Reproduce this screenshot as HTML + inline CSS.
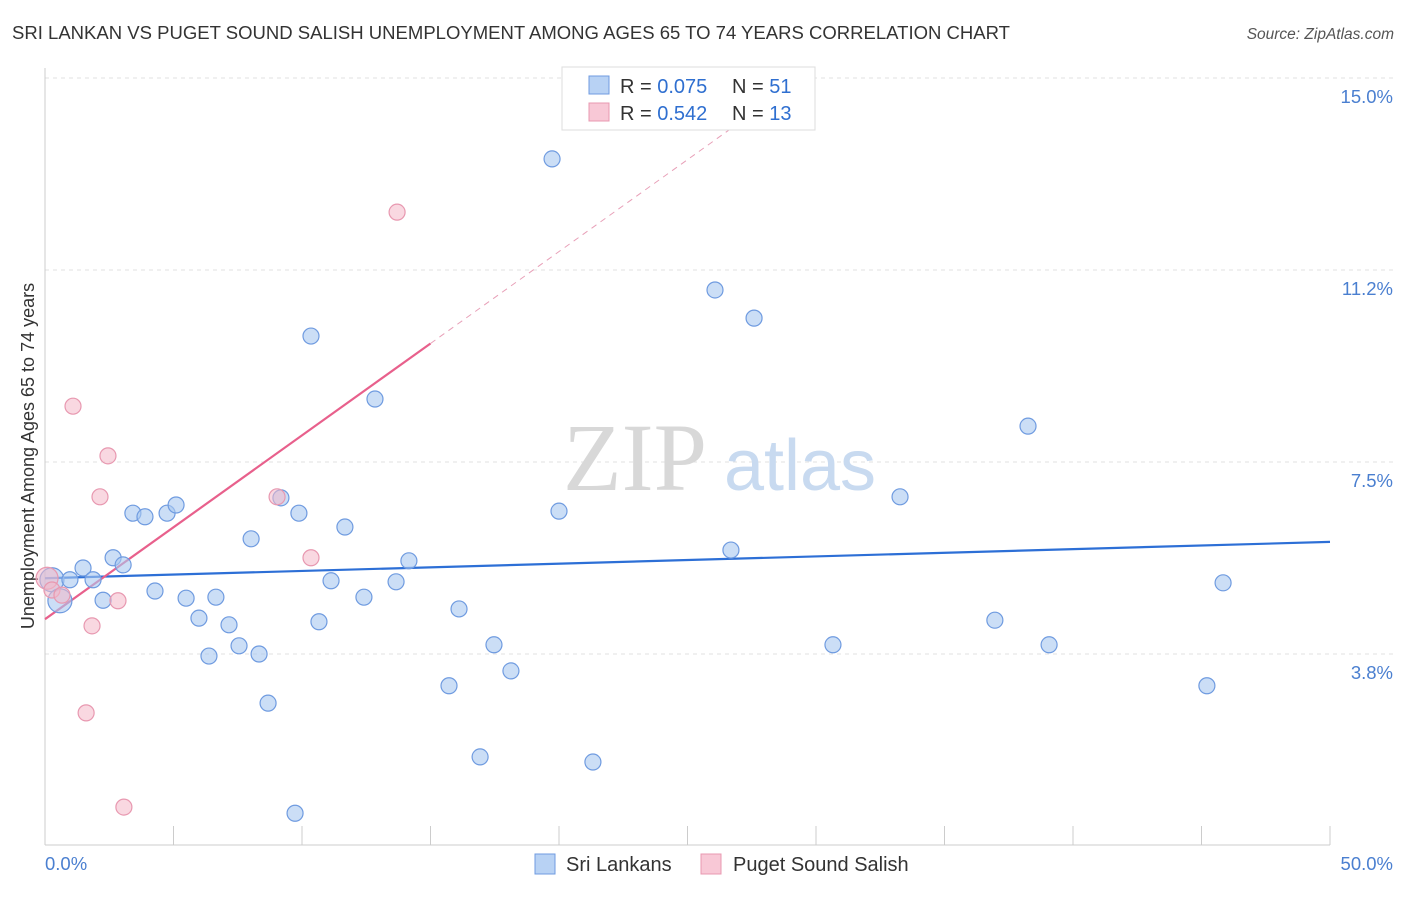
<!DOCTYPE html>
<html><head><meta charset="utf-8"><style>
body{margin:0;background:#fff;font-family:"Liberation Sans",sans-serif;}
svg text{font-family:"Liberation Sans",sans-serif;}
</style></head><body>
<svg width="1406" height="892" viewBox="0 0 1406 892">
<text x="12" y="39" font-size="18" fill="#333" textLength="998" lengthAdjust="spacingAndGlyphs">SRI LANKAN VS PUGET SOUND SALISH UNEMPLOYMENT AMONG AGES 65 TO 74 YEARS CORRELATION CHART</text>
<text x="1394" y="39" font-size="15.5" fill="#555" font-style="italic" text-anchor="end">Source: ZipAtlas.com</text>
<g id="grid"></g>
<g>
<text x="635" y="490" font-size="96" fill="#d8d8d8" text-anchor="middle" style="font-family:'Liberation Serif',serif">ZIP</text>
<text x="800" y="490" font-size="72" fill="#c8daf0" text-anchor="middle">atlas</text>
</g>
<line x1="45" y1="68" x2="45" y2="845" stroke="#ccc"/>
<line x1="45" y1="845" x2="1330" y2="845" stroke="#ccc"/>
<g id="ticks"></g>
<g id="ylabels"></g>
<text x="45" y="870" font-size="18.5" fill="#4a7fd0">0.0%</text>
<text x="1393" y="870" font-size="18.5" fill="#4a7fd0" text-anchor="end">50.0%</text>
<text transform="translate(34,456) rotate(-90)" font-size="18" fill="#333" text-anchor="middle">Unemployment Among Ages 65 to 74 years</text>
<g id="trends"></g>
<g id="pts"></g>
<g>
<rect x="562" y="67" width="253" height="63" fill="#fff" stroke="#ddd"/>
<rect x="589" y="76" width="20" height="18" fill="#b8d2f4" stroke="#6f9be0"/>
<rect x="589" y="103" width="20" height="18" fill="#f8c8d6" stroke="#e898b0"/>
<text x="620" y="93" font-size="20" fill="#333">R = <tspan fill="#2f6fd0">0.075</tspan></text>
<text x="732" y="93" font-size="20" fill="#333">N = <tspan fill="#2f6fd0">51</tspan></text>
<text x="620" y="120" font-size="20" fill="#333">R = <tspan fill="#2f6fd0">0.542</tspan></text>
<text x="732" y="120" font-size="20" fill="#333">N = <tspan fill="#2f6fd0">13</tspan></text>
</g>
<g>
<rect x="535" y="854" width="20" height="20" fill="#b8d2f4" stroke="#6f9be0"/>
<text x="566" y="871" font-size="20" fill="#333">Sri Lankans</text>
<rect x="701" y="854" width="20" height="20" fill="#f8c8d6" stroke="#e898b0"/>
<text x="733" y="871" font-size="20" fill="#333">Puget Sound Salish</text>
</g>
</svg>
<script>
const blueX=[0.27,0.58,0.97,1.48,1.87,2.26,2.65,3.04,3.42,3.89,4.28,4.75,5.10,5.49,5.99,6.38,6.65,7.16,7.55,8.02,8.33,8.68,9.18,9.73,9.88,10.35,10.66,11.13,11.67,12.41,12.84,13.66,14.16,15.72,16.11,16.93,17.47,18.13,19.73,20.00,21.32,26.07,26.69,27.59,30.66,33.27,36.96,38.25,39.07,45.21,45.84];
const blueY=[5.20,4.79,5.20,5.43,5.20,4.80,5.63,5.49,6.50,6.43,4.98,6.50,6.66,4.84,4.45,3.71,4.86,4.32,3.91,6.00,3.75,2.79,6.80,0.64,6.50,9.96,4.38,5.18,6.23,4.86,8.73,5.16,5.57,3.13,4.63,1.74,3.93,3.42,13.42,6.54,1.64,10.86,5.78,10.31,3.93,6.82,4.41,8.20,3.93,3.13,5.14];
const pinkX=[0.08,0.27,0.66,1.09,1.60,1.83,2.14,2.45,2.84,3.07,9.03,10.35,13.70];
const pinkY=[5.23,5.00,4.90,8.59,2.60,4.30,6.82,7.62,4.79,0.76,6.82,5.63,12.38];
const yTicks=[3.75,7.5,11.25,15];
const yTickLabels=["3.8%","7.5%","11.2%","15.0%"];
const xTicks=[0,5,10,15,20,25,30,35,40,45,50];
const blueTrend=[5.23,5.94];
const pinkTrend=[4.43,0.359];
const NS="http://www.w3.org/2000/svg";
const sx=v=>45+v*25.7, sy=v=>846-v*51.2;
function mk(t,a,p){const e=document.createElementNS(NS,t);for(const k in a)e.setAttribute(k,a[k]);p.appendChild(e);return e;}
const grid=document.getElementById('grid'),yl=document.getElementById('ylabels');
yTicks.forEach((v,i)=>{const l=mk('line',{x1:45,x2:1395,y1:sy(v),y2:sy(v),stroke:'#e2e2e2','stroke-dasharray':'4,4'},grid);


const t=mk('text',{x:1393,y:sy(v)+25,'font-size':18.5,fill:'#4a7fd0','text-anchor':'end'},yl);t.textContent=yTickLabels[i];

});
const tk=document.getElementById('ticks');
xTicks.forEach(v=>{const l=mk('line',{x1:sx(v),x2:sx(v),y1:826,y2:845,stroke:'#ccc'},tk);

});
const tr=document.getElementById('trends');
const bl=mk('line',{x1:sx(0),y1:sy(blueTrend[0]),x2:sx(50),y2:sy(blueTrend[1]),stroke:'#2d6fd6','stroke-width':2.2},tr);


const pl=mk('line',{x1:sx(0),y1:sy(pinkTrend[0]),x2:sx(15),y2:sy(pinkTrend[0]+15*pinkTrend[1]),stroke:'#e8608c','stroke-width':2.2},tr);


const pd=mk('line',{x1:sx(15),y1:sy(pinkTrend[0]+15*pinkTrend[1]),x2:sx(27),y2:sy(pinkTrend[0]+27*pinkTrend[1]),stroke:'#e8a0b8','stroke-width':1,'stroke-dasharray':'6,5'},tr);


const pts=document.getElementById('pts');
blueX.forEach((x,i)=>{const c=mk('circle',{cx:sx(x),cy:sy(blueY[i]),r:i<2?12:8,fill:'rgba(168,200,240,0.6)',stroke:'#6f9be0','stroke-width':1.2},pts);

});
pinkX.forEach((x,i)=>{const c=mk('circle',{cx:sx(x),cy:sy(pinkY[i]),r:i<1?11:8,fill:'rgba(244,184,200,0.55)',stroke:'#e898b0','stroke-width':1.2},pts);

});
</script>
</body></html>
